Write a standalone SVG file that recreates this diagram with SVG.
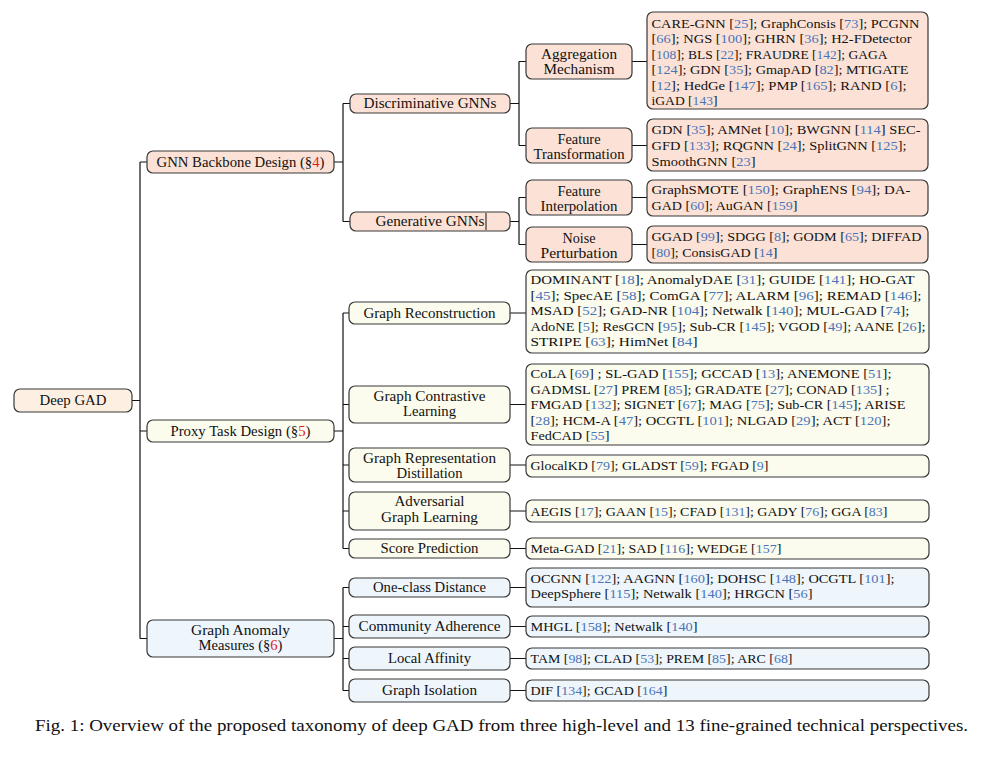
<svg xmlns="http://www.w3.org/2000/svg" width="1003" height="759" viewBox="0 0 1003 759">
<style>
  text{font-family:"Liberation Serif","Times New Roman",serif;font-size:14px;fill:#111}
  .lf text{font-size:13.4px}
  .m{text-anchor:middle}
  .c{fill:#4a74b9}
  .r{fill:#e01b1b}
  .node rect{stroke:#383838;stroke-width:1.2}
  .root rect{fill:#fdf0e2}
  .gnn rect{fill:#fce2d6}
  .pt rect{fill:#fbfbee}
  .am rect{fill:#eef5fb}
  #connectors path{fill:none;stroke:#111;stroke-width:1.2}
  .cap{font-size:16.5px}
</style>
<rect x="0" y="0" width="1003" height="759" fill="#ffffff"/>

<!-- tree edges -->
<g id="connectors">
  <path d="M132,400.5H140 M140,162V638.5 M140,162H147 M140,431H147 M140,638.5H147"/>
  <path d="M334,162H343 M343,103.5V221.5 M343,103.5H350 M343,221.5H350"/>
  <path d="M510,103.5H519 M519,61.5V145.5 M519,61.5H526 M519,145.5H526"/>
  <path d="M510,221.5H519 M519,197.5V244.5 M519,197.5H526 M519,244.5H526"/>
  <path d="M632,61.5H647 M632,145.5H647 M632,197.5H647 M632,244.5H647"/>
  <path d="M334,431H343 M343,313V548.5 M343,313H349 M343,404.5H349 M343,465H349 M343,511H349 M343,548.5H349"/>
  <path d="M334,638.5H343 M343,587.5V690.5 M343,587.5H349 M343,626.5H349 M343,658.5H349 M343,690.5H349"/>
  <path d="M510,313H526 M510,404.5H526 M510,465H526 M510,511H526 M510,548.5H526 M510,587.5H526 M510,626.5H526 M510,658.5H526 M510,690.5H526"/>
</g>

<!-- root -->
<g id="deep-gad" class="node root">
  <rect x="14" y="389" width="118" height="23" rx="6"/>
  <text class="m" x="73" y="405" textLength="67" lengthAdjust="spacingAndGlyphs">Deep GAD</text>
</g>

<!-- GNN backbone branch -->
<g id="gnn-backbone" class="node gnn">
  <rect x="147" y="151" width="187" height="22" rx="6"/>
  <text class="m" x="240.5" y="166.5" textLength="168" lengthAdjust="spacingAndGlyphs">GNN Backbone Design (§<tspan class="r">4</tspan>)</text>
</g>
<g id="discriminative-gnns" class="node gnn">
  <rect x="350" y="94" width="160" height="19" rx="6"/>
  <text class="m" x="430" y="108" textLength="133" lengthAdjust="spacingAndGlyphs">Discriminative GNNs</text>
</g>
<g id="generative-gnns" class="node gnn">
  <rect x="350" y="212" width="160" height="19" rx="6"/>
  <text class="m" x="430" y="226" textLength="109" lengthAdjust="spacingAndGlyphs">Generative GNNs</text>
  <line x1="486" y1="213" x2="486" y2="230" stroke="#111" stroke-width="1"/>
</g>
<g id="aggregation-mechanism" class="node gnn">
  <rect x="526" y="44" width="106" height="35" rx="6"/>
  <text class="m" x="579" y="59.3" textLength="76" lengthAdjust="spacingAndGlyphs">Aggregation</text>
  <text class="m" x="579" y="74.3" textLength="71" lengthAdjust="spacingAndGlyphs">Mechanism</text>
</g>
<g id="feature-transformation" class="node gnn">
  <rect x="526" y="128" width="106" height="35" rx="6"/>
  <text class="m" x="579" y="143.5" textLength="43" lengthAdjust="spacingAndGlyphs">Feature</text>
  <text class="m" x="579" y="158.5" textLength="91" lengthAdjust="spacingAndGlyphs">Transformation</text>
</g>
<g id="feature-interpolation" class="node gnn">
  <rect x="526" y="180" width="106" height="35" rx="6"/>
  <text class="m" x="579" y="195.5" textLength="43" lengthAdjust="spacingAndGlyphs">Feature</text>
  <text class="m" x="579" y="210.5" textLength="77" lengthAdjust="spacingAndGlyphs">Interpolation</text>
</g>
<g id="noise-perturbation" class="node gnn">
  <rect x="526" y="227" width="106" height="35" rx="6"/>
  <text class="m" x="579" y="242.5" textLength="33" lengthAdjust="spacingAndGlyphs">Noise</text>
  <text class="m" x="579" y="257.5" textLength="77" lengthAdjust="spacingAndGlyphs">Perturbation</text>
</g>

<g id="aggregation-methods" class="node gnn lf">
  <rect x="647" y="12" width="281" height="97" rx="6"/>
  <text x="651.5" y="27.5" textLength="268" lengthAdjust="spacingAndGlyphs">CARE-GNN [<tspan class="c">25</tspan>]; GraphConsis [<tspan class="c">73</tspan>]; PCGNN</text>
  <text x="651.5" y="43" textLength="260" lengthAdjust="spacingAndGlyphs">[<tspan class="c">66</tspan>]; NGS [<tspan class="c">100</tspan>]; GHRN [<tspan class="c">36</tspan>]; H2-FDetector</text>
  <text x="651.5" y="58.5" textLength="236" lengthAdjust="spacingAndGlyphs">[<tspan class="c">108</tspan>]; BLS [<tspan class="c">22</tspan>]; FRAUDRE [<tspan class="c">142</tspan>]; GAGA</text>
  <text x="651.5" y="74" textLength="257" lengthAdjust="spacingAndGlyphs">[<tspan class="c">124</tspan>]; GDN [<tspan class="c">35</tspan>]; GmapAD [<tspan class="c">82</tspan>]; MTIGATE</text>
  <text x="651.5" y="89.5" textLength="255" lengthAdjust="spacingAndGlyphs">[<tspan class="c">12</tspan>]; HedGe [<tspan class="c">147</tspan>]; PMP [<tspan class="c">165</tspan>]; RAND [<tspan class="c">6</tspan>];</text>
  <text x="651.5" y="105" textLength="66" lengthAdjust="spacingAndGlyphs">iGAD [<tspan class="c">143</tspan>]</text>
</g>
<g id="transformation-methods" class="node gnn lf">
  <rect x="647" y="119" width="281" height="52" rx="6"/>
  <text x="651.5" y="133.5" textLength="269" lengthAdjust="spacingAndGlyphs">GDN [<tspan class="c">35</tspan>]; AMNet [<tspan class="c">10</tspan>]; BWGNN [<tspan class="c">114</tspan>] SEC-</text>
  <text x="651.5" y="149.5" textLength="255" lengthAdjust="spacingAndGlyphs">GFD [<tspan class="c">133</tspan>]; RQGNN [<tspan class="c">24</tspan>]; SplitGNN [<tspan class="c">125</tspan>];</text>
  <text x="651.5" y="165.5" textLength="104" lengthAdjust="spacingAndGlyphs">SmoothGNN [<tspan class="c">23</tspan>]</text>
</g>
<g id="interpolation-methods" class="node gnn lf">
  <rect x="647" y="180" width="281" height="36" rx="6"/>
  <text x="651.5" y="194" textLength="259" lengthAdjust="spacingAndGlyphs">GraphSMOTE [<tspan class="c">150</tspan>]; GraphENS [<tspan class="c">94</tspan>]; DA-</text>
  <text x="651.5" y="210" textLength="146" lengthAdjust="spacingAndGlyphs">GAD [<tspan class="c">60</tspan>]; AuGAN [<tspan class="c">159</tspan>]</text>
</g>
<g id="perturbation-methods" class="node gnn lf">
  <rect x="647" y="226" width="281" height="37" rx="6"/>
  <text x="651.5" y="240.5" textLength="270" lengthAdjust="spacingAndGlyphs">GGAD [<tspan class="c">99</tspan>]; SDGG [<tspan class="c">8</tspan>]; GODM [<tspan class="c">65</tspan>]; DIFFAD</text>
  <text x="651.5" y="256.5" textLength="126" lengthAdjust="spacingAndGlyphs">[<tspan class="c">80</tspan>]; ConsisGAD [<tspan class="c">14</tspan>]</text>
</g>

<!-- proxy task branch -->
<g id="proxy-task" class="node pt">
  <rect x="147" y="420" width="187" height="22" rx="6"/>
  <text class="m" x="240.5" y="435.5" textLength="140" lengthAdjust="spacingAndGlyphs">Proxy Task Design (§<tspan class="r">5</tspan>)</text>
</g>
<g id="graph-reconstruction" class="node pt">
  <rect x="349" y="302" width="161" height="22" rx="6"/>
  <text class="m" x="429.5" y="317.5" textLength="132" lengthAdjust="spacingAndGlyphs">Graph Reconstruction</text>
</g>
<g id="graph-contrastive" class="node pt">
  <rect x="349" y="386" width="161" height="37" rx="6"/>
  <text class="m" x="429.5" y="400.5" textLength="112" lengthAdjust="spacingAndGlyphs">Graph Contrastive</text>
  <text class="m" x="429.5" y="415.5" textLength="53" lengthAdjust="spacingAndGlyphs">Learning</text>
</g>
<g id="graph-distillation" class="node pt">
  <rect x="349" y="448" width="161" height="34" rx="6"/>
  <text class="m" x="429.5" y="462.5" textLength="133" lengthAdjust="spacingAndGlyphs">Graph Representation</text>
  <text class="m" x="429.5" y="477.5" textLength="66" lengthAdjust="spacingAndGlyphs">Distillation</text>
</g>
<g id="adversarial-learning" class="node pt">
  <rect x="349" y="492" width="161" height="38" rx="6"/>
  <text class="m" x="429.5" y="506" textLength="70" lengthAdjust="spacingAndGlyphs">Adversarial</text>
  <text class="m" x="429.5" y="521.5" textLength="97" lengthAdjust="spacingAndGlyphs">Graph Learning</text>
</g>
<g id="score-prediction" class="node pt">
  <rect x="349" y="539" width="161" height="19" rx="6"/>
  <text class="m" x="429.5" y="553" textLength="98" lengthAdjust="spacingAndGlyphs">Score Prediction</text>
</g>

<g id="reconstruction-methods" class="node pt lf">
  <rect x="526" y="270" width="403" height="83" rx="6"/>
  <text x="530.5" y="284" textLength="384" lengthAdjust="spacingAndGlyphs">DOMINANT [<tspan class="c">18</tspan>]; AnomalyDAE [<tspan class="c">31</tspan>]; GUIDE [<tspan class="c">141</tspan>]; HO-GAT</text>
  <text x="530.5" y="299.5" textLength="391" lengthAdjust="spacingAndGlyphs">[<tspan class="c">45</tspan>]; SpecAE [<tspan class="c">58</tspan>]; ComGA [<tspan class="c">77</tspan>]; ALARM [<tspan class="c">96</tspan>]; REMAD [<tspan class="c">146</tspan>];</text>
  <text x="530.5" y="315" textLength="379" lengthAdjust="spacingAndGlyphs">MSAD [<tspan class="c">52</tspan>]; GAD-NR [<tspan class="c">104</tspan>]; Netwalk [<tspan class="c">140</tspan>]; MUL-GAD [<tspan class="c">74</tspan>];</text>
  <text x="530.5" y="330.5" textLength="395" lengthAdjust="spacingAndGlyphs">AdoNE [<tspan class="c">5</tspan>]; ResGCN [<tspan class="c">95</tspan>]; Sub-CR [<tspan class="c">145</tspan>]; VGOD [<tspan class="c">49</tspan>]; AANE [<tspan class="c">26</tspan>];</text>
  <text x="530.5" y="346" textLength="167" lengthAdjust="spacingAndGlyphs">STRIPE [<tspan class="c">63</tspan>]; HimNet [<tspan class="c">84</tspan>]</text>
</g>
<g id="contrastive-methods" class="node pt lf">
  <rect x="526" y="364" width="403" height="81" rx="6"/>
  <text x="530.5" y="378" textLength="361" lengthAdjust="spacingAndGlyphs">CoLA [<tspan class="c">69</tspan>] ; SL-GAD [<tspan class="c">155</tspan>]; GCCAD [<tspan class="c">13</tspan>]; ANEMONE [<tspan class="c">51</tspan>];</text>
  <text x="530.5" y="393.5" textLength="359" lengthAdjust="spacingAndGlyphs">GADMSL [<tspan class="c">27</tspan>] PREM [<tspan class="c">85</tspan>]; GRADATE [<tspan class="c">27</tspan>]; CONAD [<tspan class="c">135</tspan>] ;</text>
  <text x="530.5" y="409" textLength="375" lengthAdjust="spacingAndGlyphs">FMGAD [<tspan class="c">132</tspan>]; SIGNET [<tspan class="c">67</tspan>]; MAG [<tspan class="c">75</tspan>]; Sub-CR [<tspan class="c">145</tspan>]; ARISE</text>
  <text x="530.5" y="424.5" textLength="360" lengthAdjust="spacingAndGlyphs">[<tspan class="c">28</tspan>]; HCM-A [<tspan class="c">47</tspan>]; OCGTL [<tspan class="c">101</tspan>]; NLGAD [<tspan class="c">29</tspan>]; ACT [<tspan class="c">120</tspan>];</text>
  <text x="530.5" y="440" textLength="79" lengthAdjust="spacingAndGlyphs">FedCAD [<tspan class="c">55</tspan>]</text>
</g>
<g id="distillation-methods" class="node pt lf">
  <rect x="526" y="455" width="403" height="22" rx="6"/>
  <text x="530.5" y="470" textLength="238" lengthAdjust="spacingAndGlyphs">GlocalKD [<tspan class="c">79</tspan>]; GLADST [<tspan class="c">59</tspan>]; FGAD [<tspan class="c">9</tspan>]</text>
</g>
<g id="adversarial-methods" class="node pt lf">
  <rect x="526" y="500" width="403" height="22" rx="6"/>
  <text x="530.5" y="515.5" textLength="357" lengthAdjust="spacingAndGlyphs">AEGIS [<tspan class="c">17</tspan>]; GAAN [<tspan class="c">15</tspan>]; CFAD [<tspan class="c">131</tspan>]; GADY [<tspan class="c">76</tspan>]; GGA [<tspan class="c">83</tspan>]</text>
</g>
<g id="score-methods" class="node pt lf">
  <rect x="526" y="538" width="403" height="21" rx="6"/>
  <text x="530.5" y="553" textLength="251" lengthAdjust="spacingAndGlyphs">Meta-GAD [<tspan class="c">21</tspan>]; SAD [<tspan class="c">116</tspan>]; WEDGE [<tspan class="c">157</tspan>]</text>
</g>

<!-- anomaly measure branch -->
<g id="anomaly-measures" class="node am">
  <rect x="147" y="620" width="187" height="37" rx="6"/>
  <text class="m" x="240.5" y="635" textLength="99" lengthAdjust="spacingAndGlyphs">Graph Anomaly</text>
  <text class="m" x="240.5" y="650" textLength="84" lengthAdjust="spacingAndGlyphs">Measures (§<tspan class="r">6</tspan>)</text>
</g>
<g id="one-class-distance" class="node am">
  <rect x="349" y="578" width="161" height="19" rx="6"/>
  <text class="m" x="429.5" y="592" textLength="113" lengthAdjust="spacingAndGlyphs">One-class Distance</text>
</g>
<g id="community-adherence" class="node am">
  <rect x="349" y="615" width="161" height="23" rx="6"/>
  <text class="m" x="429.5" y="631" textLength="142" lengthAdjust="spacingAndGlyphs">Community Adherence</text>
</g>
<g id="local-affinity" class="node am">
  <rect x="349" y="647" width="161" height="23" rx="6"/>
  <text class="m" x="429.5" y="663" textLength="83" lengthAdjust="spacingAndGlyphs">Local Affinity</text>
</g>
<g id="graph-isolation" class="node am">
  <rect x="349" y="679" width="161" height="23" rx="6"/>
  <text class="m" x="429.5" y="695" textLength="95" lengthAdjust="spacingAndGlyphs">Graph Isolation</text>
</g>

<g id="distance-methods" class="node am lf">
  <rect x="526" y="568" width="403" height="39" rx="6"/>
  <text x="530.5" y="582.5" textLength="364" lengthAdjust="spacingAndGlyphs">OCGNN [<tspan class="c">122</tspan>]; AAGNN [<tspan class="c">160</tspan>]; DOHSC [<tspan class="c">148</tspan>]; OCGTL [<tspan class="c">101</tspan>];</text>
  <text x="530.5" y="598" textLength="282" lengthAdjust="spacingAndGlyphs">DeepSphere [<tspan class="c">115</tspan>]; Netwalk [<tspan class="c">140</tspan>]; HRGCN [<tspan class="c">56</tspan>]</text>
</g>
<g id="community-methods" class="node am lf">
  <rect x="526" y="616" width="403" height="21" rx="6"/>
  <text x="530.5" y="631" textLength="167" lengthAdjust="spacingAndGlyphs">MHGL [<tspan class="c">158</tspan>]; Netwalk [<tspan class="c">140</tspan>]</text>
</g>
<g id="affinity-methods" class="node am lf">
  <rect x="526" y="648" width="403" height="21" rx="6"/>
  <text x="530.5" y="663" textLength="262" lengthAdjust="spacingAndGlyphs">TAM [<tspan class="c">98</tspan>]; CLAD [<tspan class="c">53</tspan>]; PREM [<tspan class="c">85</tspan>]; ARC [<tspan class="c">68</tspan>]</text>
</g>
<g id="isolation-methods" class="node am lf">
  <rect x="526" y="680" width="403" height="21" rx="6"/>
  <text x="530.5" y="695" textLength="137" lengthAdjust="spacingAndGlyphs">DIF [<tspan class="c">134</tspan>]; GCAD [<tspan class="c">164</tspan>]</text>
</g>

<!-- caption -->
<text class="cap" x="35" y="731" textLength="933" lengthAdjust="spacingAndGlyphs">Fig. 1: Overview of the proposed taxonomy of deep GAD from three high-level and 13 fine-grained technical perspectives.</text>
</svg>
